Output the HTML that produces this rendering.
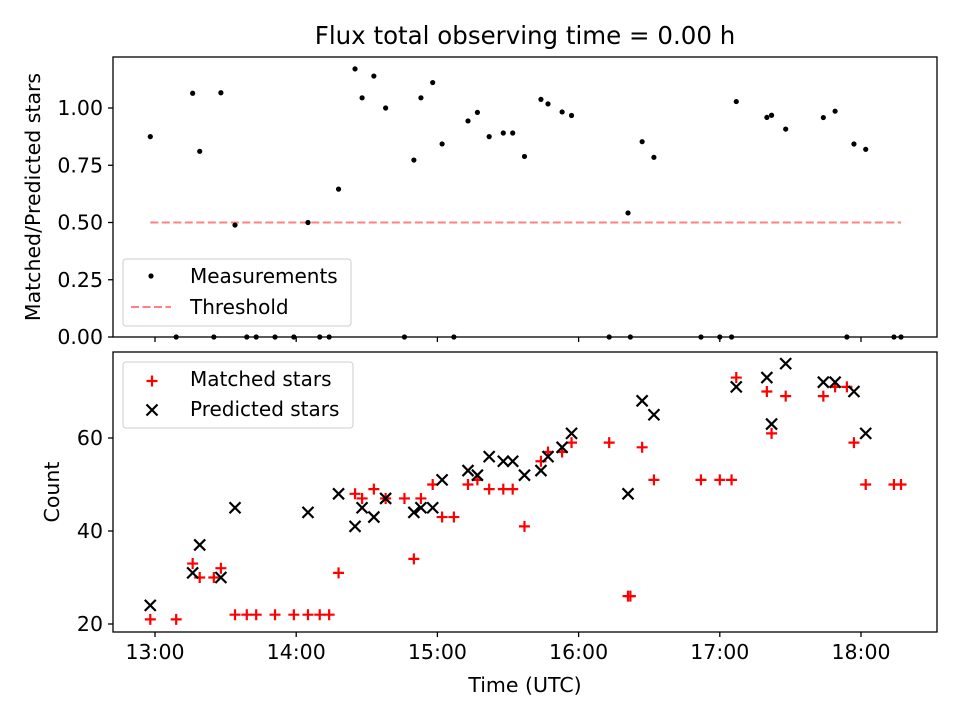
<!DOCTYPE html>
<html><head><meta charset="utf-8"><style>
body{margin:0;background:#fff}
svg{font-family:"DejaVu Sans","Liberation Sans",sans-serif}
</style></head><body>
<svg id="chart" width="960" height="720" xmlns="http://www.w3.org/2000/svg">
<rect width="960" height="720" fill="#fff"/>
<text x="525" y="44" font-size="24.5" text-anchor="middle">Flux total observing time = 0.00 h</text>
<g id="topPanel"></g>
<g id="botPanel"></g>
<text transform="translate(40,197) rotate(-90)" font-size="20.5" text-anchor="middle">Matched/Predicted stars</text>
<text transform="translate(59,492) rotate(-90)" font-size="20.5" text-anchor="middle">Count</text>
<text x="525" y="692" font-size="20.5" text-anchor="middle">Time (UTC)</text>
</svg>
<script>
// times in minutes since midnight (UTC)
const times = [778,789,796,799,805,808,814,819,823,831,839,845,850,854,858,865,868,873,878,886,890,893,898,902,907,913,917,922,928,932,937,944,947,953,957,973,981,982,987,992,1012,1020,1025,1027,1040,1042,1048,1064,1069,1074,1077,1082,1094,1097];
const matched = [21,21,33,30,30,32,22,22,22,22,22,22,22,22,31,48,47,49,47,47,34,47,50,43,43,50,51,49,49,49,41,55,57,57,59,59,26,26,58,51,51,51,51,73,70,61,69,69,71,71,59,50,50,50];
const predicted = [24,0,31,37,0,30,45,0,0,0,0,44,0,0,48,41,45,43,47,0,44,45,45,51,0,53,52,56,55,55,52,53,56,58,61,0,48,0,68,65,0,0,0,71,73,63,76,72,72,0,70,61,0,0];
const threshold = 0.5;
const xTickLabels = ["13:00","14:00","15:00","16:00","17:00","18:00"];
const xTickMinutes = [780,840,900,960,1020,1080];
const ratioTicks = [0,0.25,0.5,0.75,1.0];
const countTicks = [20,40,60];

const NS="http://www.w3.org/2000/svg";
const X = m => 155 + (m-780)*141.2/60;
const YR = r => 337 - r*229;
const YC = c => 624 - (c-20)*4.65;
function mk(parent,tag,attrs){const e=document.createElementNS(NS,tag);for(const k in attrs)e.setAttribute(k,attrs[k]);parent.appendChild(e);return e;}
const gTop=document.getElementById('topPanel'), gBot=document.getElementById('botPanel');

function axes(g,y0,y1,showLabels,yticks,Yf,fmt,prefix){
  const f=mk(g,'rect',{x:113,y:y0,width:824,height:y1-y0,fill:'none',stroke:'#000','stroke-width':1.3});
  
  
  xTickMinutes.forEach((m,i)=>{
    const t=mk(g,'line',{x1:X(m),x2:X(m),y1:y1,y2:y1+5,stroke:'#000','stroke-width':1.3});
    
    
    if(showLabels){const l=mk(g,'text',{x:X(m),y:y1+27,'font-size':20.5,'text-anchor':'middle'});l.textContent=xTickLabels[i];
      
      }
  });
  yticks.forEach(v=>{
    const t=mk(g,'line',{x1:108,x2:113,y1:Yf(v),y2:Yf(v),stroke:'#000','stroke-width':1.3});
    
    
    const l=mk(g,'text',{x:103,y:Yf(v)+7,'font-size':20.5,'text-anchor':'end'});l.textContent=fmt(v);
    
    
  });
}
axes(gTop,57,337,false,ratioTicks,YR,v=>v.toFixed(2),'ratio');
axes(gBot,352,632,true,countTicks,YC,v=>String(v),'count');

const th=mk(gTop,'line',{x1:X(times[0]),x2:X(times[times.length-1]),y1:YR(threshold),y2:YR(threshold),stroke:'#ff8080','stroke-width':2,'stroke-dasharray':'8,3.5'});


times.forEach((m,i)=>{
  const r = predicted[i]>0 ? matched[i]/predicted[i] : 0;
  const c=mk(gTop,'circle',{cx:X(m),cy:YR(r),r:2.6,fill:'#000'});
  
  
});
function plus(g,x,y,col){return mk(g,'path',{d:`M${x-5.5},${y}H${x+5.5}M${x},${y-5.5}V${y+5.5}`,stroke:col,'stroke-width':2.2,fill:'none'});}
function cross(g,x,y){return mk(g,'path',{d:`M${x-5.5},${y-5.5}L${x+5.5},${y+5.5}M${x-5.5},${y+5.5}L${x+5.5},${y-5.5}`,stroke:'#000','stroke-width':2.2,fill:'none'});}
times.forEach((m,i)=>{
  const p=plus(gBot,X(m),YC(matched[i]),'#f00');
  
  
});
times.forEach((m,i)=>{
  if(predicted[i]>0){
    const c=cross(gBot,X(m),YC(predicted[i]));
    
    
  }
});
const lt=mk(gTop,'g',{});


mk(lt,'rect',{x:123,y:259,width:228,height:67,rx:3,fill:'#fff','fill-opacity':0.8,stroke:'#ccc'});
mk(lt,'circle',{cx:151,cy:276,r:2.6,fill:'#000'});
let t=mk(lt,'text',{x:190,y:283,'font-size':20});t.textContent='Measurements';
mk(lt,'line',{x1:131,x2:171,y1:307,y2:307,stroke:'#ff8080','stroke-width':2,'stroke-dasharray':'8,3.5'});
t=mk(lt,'text',{x:190,y:314,'font-size':20});t.textContent='Threshold';
const lb=mk(gBot,'g',{});


mk(lb,'rect',{x:123,y:362,width:230,height:66,rx:3,fill:'#fff','fill-opacity':0.8,stroke:'#ccc'});
plus(lb,152,381,'#f00');
t=mk(lb,'text',{x:190,y:386,'font-size':20});t.textContent='Matched stars';
cross(lb,152,410);
t=mk(lb,'text',{x:190,y:416,'font-size':20});t.textContent='Predicted stars';
</script>
</body></html>
